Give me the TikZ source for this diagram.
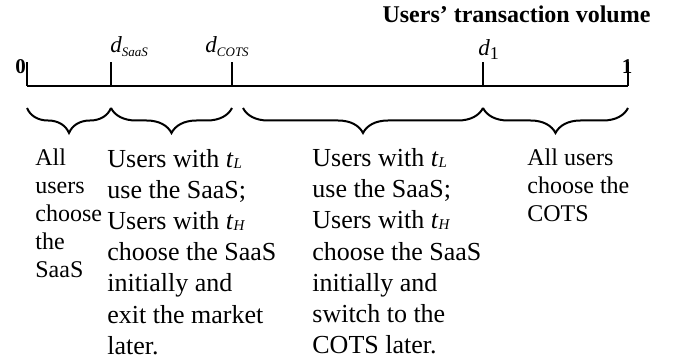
\documentclass[tikz,border=0pt]{standalone}
\usepackage{fontspec}
\setmainfont{Liberation Serif}
\usetikzlibrary{decorations.pathreplacing, positioning, calc}

\newcommand{\tsub}[1]{\textit{t}\raisebox{-0.4pt}{\fontsize{7.5}{8}\selectfont\textit{#1}}}
\newcommand{\dsub}[1]{\textit{d}\raisebox{-2pt}{\fontsize{6.5}{7}\selectfont\textit{#1}}}

\begin{document}
\begin{tikzpicture}[x=0.5pt, y=-0.5pt,
    axisline/.style={line width=1pt},
    bracedown/.style={decorate, decoration={brace, mirror, amplitude=12.5pt}, line width=1pt},
    endlabel/.style={inner sep=0pt, font=\fontsize{10.5}{10.5}\selectfont\bfseries},
    ticklabel/.style={anchor=base west, inner sep=0pt, font=\fontsize{11.5}{11.5}\selectfont},
    bigcell/.style={anchor=base west, inner sep=0pt, align=left, font=\fontsize{13}{15.5}\selectfont},
    smallcell/.style={anchor=base west, inner sep=0pt, align=left, font=\fontsize{12}{14}\selectfont}]
    \useasboundingbox (0,0) rectangle (678,362);

    % points on the axis
    \coordinate (p0) at (27,86);
    \coordinate (psaas) at (111,86);
    \coordinate (pcots) at (232,86);
    \coordinate (p1) at (483,86);
    \coordinate (pend) at (628,86);

    % axis and ticks
    \draw [axisline] (p0) -- (pend);
    \foreach \p in {p0, psaas, pcots, p1, pend} {
        \draw [axisline] (\p) -- ++(0,-24);
    }

    % labels above the axis
    \node [endlabel] (zero) at (20.5,67) {0};
    \node [endlabel] (one) at (627,67) {1};
    \node [ticklabel] (dsaas) at (110,53) {\dsub{SaaS}};
    \node [ticklabel] (dcots) at (205,53) {\dsub{COTS}};
    \node [ticklabel] (done) at (478,56) {\textit{d}\textsubscript{\fontsize{9}{9}\selectfont 1}};
    \node [anchor=base, inner sep=0pt, font=\fontsize{12}{12}\selectfont\bfseries] (title) at (516.5,23) {Users’ transaction volume};

    % braces under the axis
    \coordinate (b0) at (27,108);
    \coordinate (bsaas) at (111,108);
    \coordinate (bcots) at (232,108);
    \coordinate (bgap) at (243,108);
    \coordinate (b1) at (483,108);
    \coordinate (bend) at (628,108);
    \draw [bracedown] (b0) -- (bsaas);
    \draw [bracedown] (bsaas) -- (bcots);
    \draw [bracedown] (bgap) -- (b1);
    \draw [bracedown] (b1) -- (bend);

    % what the users do in each range (anchored at the last line)
    \node [smallcell] (allsaas) at (35,278) {All\\users\\choose\\the\\SaaS};
    \node [bigcell] (exitmarket) at (107,354) {Users with \tsub{L}\\use the SaaS;\\Users with \tsub{H}\\choose the SaaS\\initially and\\exit the market\\later.};
    \node [bigcell] (switchcots) at (312,353) {Users with \tsub{L}\\use the SaaS;\\Users with \tsub{H}\\choose the SaaS\\initially and\\switch to the\\COTS later.};
    \node [smallcell] (allcots) at (527,222) {All users\\choose the\\COTS};
\end{tikzpicture}
\end{document}
